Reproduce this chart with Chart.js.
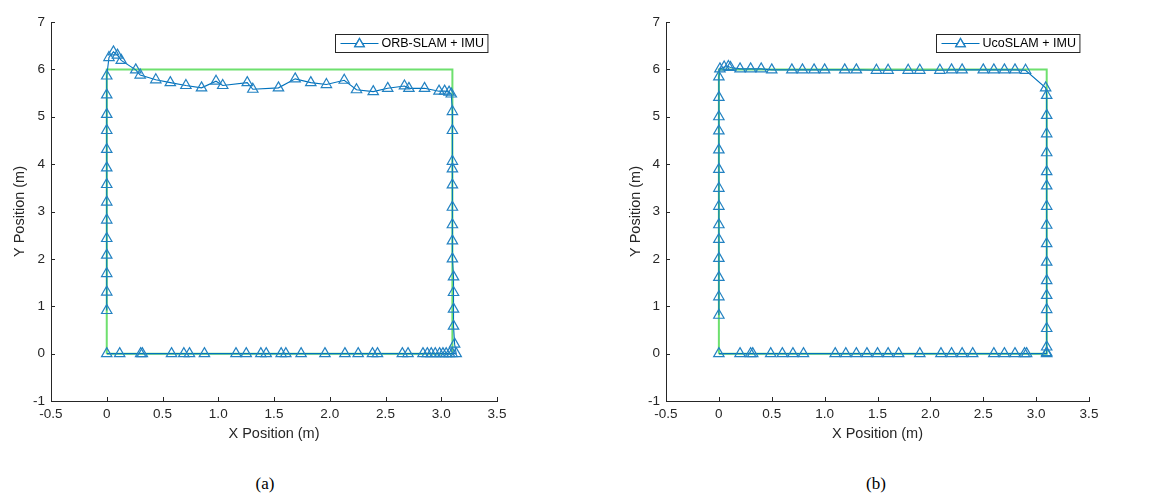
<!DOCTYPE html>
<html lang="en">
<head>
<meta charset="UTF-8">
<title>Trajectory: ORB-SLAM vs UcoSLAM</title>
<script src="https://cdn.jsdelivr.net/npm/chart.js"></script>
<style>
  body { margin: 0; background: #fff; width: 1172px; height: 497px; position: relative; overflow: hidden; }
  .panel { position: absolute; top: 0; height: 460px; }
  .cap { position: absolute; top: 474px; font-family: "Liberation Serif", "Times New Roman", serif; font-size: 17px; color: #000; transform: translateX(-50%); }
</style>
</head>
<body>
<div class="panel" style="left:0;width:560px"><canvas id="chartA"></canvas></div>
<div class="panel" style="left:616px;width:556px"><canvas id="chartB"></canvas></div>
<div class="cap" style="left:265px">(a)</div>
<div class="cap" style="left:876px">(b)</div>

<script>
// ground truth rectangle
const truthX = [0, 3.1, 3.1, 0, 0];
const truthY = [0, 0, 6, 6, 0];

// (a) ORB-SLAM + IMU : bottom -> right side -> top -> left side
const orbX = [
  0, 0.116, 0.304, 0.319, 0.581, 0.691, 0.742, 0.876, 1.159, 1.251, 1.382, 1.43, 1.564, 1.606, 1.743, 1.957,
  2.136, 2.255, 2.383, 2.428, 2.651, 2.702, 2.836, 2.875, 2.91, 2.946, 2.985, 3.015, 3.044, 3.074, 3.098, 3.134,
  3.12, 3.11, 3.11, 3.11, 3.11, 3.1, 3.1, 3.1, 3.1, 3.1, 3.1, 3.1, 3.1, 3.1,
  3.09, 3.07, 3.03, 2.98, 2.85, 2.71, 2.67, 2.52, 2.39, 2.24, 2.13, 1.97, 1.83, 1.69, 1.54, 1.31, 1.26,
  1.04, 0.98, 0.85, 0.71, 0.57, 0.44, 0.30, 0.26, 0.13, 0.096, 0.06, 0.02,
  0, 0, 0, 0, 0, 0, 0, 0, 0, 0, 0, 0, 0, 0
];
const orbY = [
  0, 0, 0, 0, 0, 0, 0, 0, 0, 0, 0, 0, 0, 0, 0, 0,
  0, 0, 0, 0, 0, 0, 0, 0, 0, 0, 0, 0, 0, 0, 0, 0,
  0.20, 0.58, 0.94, 1.29, 1.62, 2.00, 2.38, 2.72, 3.09, 3.56, 3.90, 4.06, 4.71, 5.11,
  5.48, 5.52, 5.54, 5.54, 5.60, 5.60, 5.65, 5.60, 5.53, 5.57, 5.77, 5.68, 5.72, 5.80, 5.61, 5.58, 5.72,
  5.66, 5.75, 5.61, 5.66, 5.72, 5.78, 5.88, 5.99, 6.19, 6.30, 6.37, 6.25,
  5.86, 5.46, 5.05, 4.71, 4.31, 3.92, 3.57, 3.20, 2.82, 2.43, 2.08, 1.69, 1.30, 0.91
];

// (b) UcoSLAM + IMU
const ucoX = [
  0, 0.20, 0.30, 0.32, 0.49, 0.60, 0.70, 0.80, 1.10, 1.20, 1.30, 1.40, 1.50, 1.60, 1.70, 1.90,
  2.10, 2.20, 2.30, 2.40, 2.60, 2.70, 2.80, 2.89, 2.91, 3.10,
  3.1, 3.1, 3.1, 3.1, 3.1, 3.1, 3.1, 3.1, 3.1, 3.1, 3.1, 3.1, 3.1, 3.1, 3.1, 3.1, 3.09,
  2.90, 2.80, 2.70, 2.60, 2.50, 2.30, 2.20, 2.09, 1.90, 1.79, 1.60, 1.49, 1.30, 1.19, 1.00, 0.90,
  0.79, 0.69, 0.50, 0.40, 0.30, 0.20, 0.11, 0.09, 0.05, 0.01,
  0, 0, 0, 0, 0, 0, 0, 0, 0, 0, 0, 0, 0, 0
];
const ucoY = [
  0, 0, 0, 0, 0, 0, 0, 0, 0, 0, 0, 0, 0, 0, 0, 0,
  0, 0, 0, 0, 0, 0, 0, 0, 0, 0,
  0.02, 0.14, 0.53, 0.93, 1.23, 1.54, 1.93, 2.32, 2.71, 3.11, 3.54, 3.84, 4.24, 4.64, 5.03, 5.45, 5.61,
  5.98, 5.99, 5.99, 5.99, 5.99, 5.99, 5.99, 5.98, 5.98, 5.98, 5.98, 5.98, 5.99, 5.99, 5.99, 5.99,
  5.99, 5.99, 5.99, 6.01, 6.01, 6.01, 6.04, 6.06, 6.05, 6.01,
  5.84, 5.41, 5.00, 4.70, 4.30, 3.89, 3.49, 3.11, 2.72, 2.41, 2.01, 1.61, 1.20, 0.81
];

const xTickVals = [-0.5, 0, 0.5, 1, 1.5, 2, 2.5, 3, 3.5];
const yTickVals = [-1, 0, 1, 2, 3, 4, 5, 6, 7];

const axisColor = '#262626';
const blue = '#0072BD';
const markerBlue = '#2382c2';
const green = '#6ee06e';
const sans = '"Liberation Sans", Arial, sans-serif';

const pairs = (xs, ys) => xs.map((x, i) => ({ x: x, y: ys[i] }));

// MATLAB-like inward tick marks
const inTicks = {
  id: 'inTicks',
  afterDraw(chart) {
    const { ctx, chartArea: a, scales: { x, y } } = chart;
    ctx.save();
    ctx.strokeStyle = axisColor;
    ctx.lineWidth = 1;
    ctx.beginPath();
    x.ticks.forEach(t => {
      const px = Math.round(x.getPixelForValue(t.value)) + 0.5;
      ctx.moveTo(px, a.bottom);
      ctx.lineTo(px, a.bottom - 4);
    });
    y.ticks.forEach(t => {
      const py = Math.round(y.getPixelForValue(t.value)) + 0.5;
      ctx.moveTo(a.left, py);
      ctx.lineTo(a.left + 4, py);
    });
    ctx.stroke();
    ctx.restore();
  }
};

// boxed legend with line + triangle sample
const boxLegend = {
  id: 'boxLegend',
  afterDraw(chart) {
    const { ctx, chartArea: a } = chart;
    const label = chart.data.datasets[0].label;
    ctx.save();
    ctx.font = '12.5px ' + sans;
    const tw = ctx.measureText(label).width;
    const w = 5 + 38 + 3 + tw + 4, h = 18;
    const left = Math.round(a.right - 10 - w) + 0.5, top = Math.round(a.top + 12) + 0.5;
    ctx.fillStyle = '#fff';
    ctx.fillRect(left, top, w, h);
    ctx.strokeStyle = axisColor;
    ctx.lineWidth = 1;
    ctx.strokeRect(left, top, w, h);
    const cy = top + h / 2;
    ctx.strokeStyle = blue;
    ctx.beginPath();
    ctx.moveTo(left + 5, cy);
    ctx.lineTo(left + 43, cy);
    ctx.stroke();
    ctx.strokeStyle = markerBlue;
    ctx.lineWidth = 1.2;
    Chart.helpers.drawPoint(ctx, { pointStyle: 'triangle', radius: 5.5, rotation: 0, borderWidth: 1.2 }, left + 24, cy + 0.5);
    ctx.stroke();
    ctx.fillStyle = '#000';
    ctx.textBaseline = 'middle';
    ctx.fillText(label, left + 46, cy + 0.5);
    ctx.restore();
  }
};

function makeChart(id, label, xs, ys, yWidth, padRight) {
  return new Chart(document.getElementById(id), {
    type: 'scatter',
    data: {
      datasets: [
        {
          label: label,
          data: pairs(xs, ys),
          showLine: true,
          borderColor: blue,
          borderWidth: 1.1,
          pointStyle: 'triangle',
          pointRadius: 6,
          pointBorderColor: markerBlue,
          pointBackgroundColor: 'rgba(0,0,0,0)',
          pointBorderWidth: 1.2
        },
        {
          label: 'truth',
          data: pairs(truthX, truthY),
          showLine: true,
          borderColor: green,
          borderWidth: 2,
          pointRadius: 0
        }
      ]
    },
    options: {
      responsive: true,
      maintainAspectRatio: false,
      animation: false,
      layout: { padding: { left: 8, top: 22, right: padRight, bottom: 14 } },
      plugins: { legend: { display: false }, tooltip: { enabled: false } },
      scales: {
        x: {
          type: 'linear', min: -0.5, max: 3.5,
          afterBuildTicks: s => { s.ticks = xTickVals.map(v => ({ value: v })); },
          afterFit: s => { s.height = 45; },
          grid: { display: false, drawTicks: false },
          border: { display: true, color: axisColor, width: 1 },
          ticks: { color: axisColor, font: { family: sans, size: 13.5 }, padding: 5, maxRotation: 0, autoSkip: false },
          title: { display: true, text: 'X Position (m)', color: axisColor, font: { family: sans, size: 14.5 }, padding: { top: 0, bottom: 3 } }
        },
        y: {
          type: 'linear', min: -1, max: 7,
          afterBuildTicks: s => { s.ticks = yTickVals.map(v => ({ value: v })); },
          afterFit: s => { s.width = yWidth; },
          grid: { display: false, drawTicks: false },
          border: { display: true, color: axisColor, width: 1 },
          ticks: { color: axisColor, font: { family: sans, size: 13.5 }, padding: 6, autoSkip: false },
          title: { display: true, text: 'Y Position (m)', color: axisColor, font: { family: sans, size: 14.5 }, padding: { top: 3, bottom: 0 } }
        }
      }
    },
    plugins: [inTicks, boxLegend]
  });
}

makeChart('chartA', 'ORB-SLAM + IMU', orbX, orbY, 43, 63);
makeChart('chartB', 'UcoSLAM + IMU', ucoX, ucoY, 42, 83);
</script>
</body>
</html>
